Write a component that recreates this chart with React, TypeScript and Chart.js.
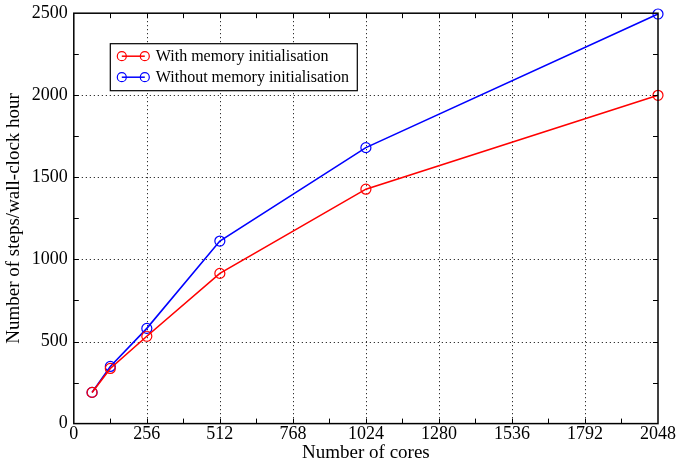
import React, { useEffect, useRef } from "react";
import { Chart, registerables } from "chart.js";
Chart.register(...registerables);

const cores = [64, 128, 256, 512, 1024, 2048];
const withInit = [190, 336, 532, 915, 1428, 2000];
const withoutInit = [190, 348, 580, 1112, 1681, 2495];
const seriesLabels = ["With memory initialisation", "Without memory initialisation"];
const seriesColors = ["#ff0000", "#0000ff"];
const xTitle = "Number of cores";
const yTitle = "Number of steps/wall-clock hour";

const FONT = "'Liberation Serif', 'DejaVu Serif', serif";

const framePlugin = {
  id: "frame",
  beforeDatasetsDraw(chart: any) {
    const { ctx, chartArea: a, scales } = chart;
    const xs = scales.x, ys = scales.y;
    ctx.save();
    ctx.strokeStyle = "#000";
    ctx.lineWidth = 1;
    ctx.setLineDash([1, 3]);
    for (let v = 256; v < 2048; v += 256) {
      const px = Math.round(xs.getPixelForValue(v)) + 0.5;
      ctx.beginPath(); ctx.moveTo(px, a.top); ctx.lineTo(px, a.bottom); ctx.stroke();
    }
    for (let v = 500; v < 2500; v += 500) {
      const py = Math.round(ys.getPixelForValue(v)) + 0.5;
      ctx.beginPath(); ctx.moveTo(a.left, py); ctx.lineTo(a.right, py); ctx.stroke();
    }
    ctx.restore();
  },
  afterDatasetsDraw(chart: any) {
    const { ctx, chartArea: a, scales } = chart;
    const xs = scales.x, ys = scales.y;
    ctx.save();
    ctx.strokeStyle = "#000";
    ctx.lineWidth = 1.5;
    ctx.setLineDash([]);
    ctx.strokeRect(a.left, a.top, a.right - a.left, a.bottom - a.top);
    ctx.lineWidth = 1;
    const L = 5;
    for (let v = 128; v < 2048; v += 128) {
      const px = Math.round(xs.getPixelForValue(v)) + 0.5;
      ctx.beginPath();
      ctx.moveTo(px, a.bottom); ctx.lineTo(px, a.bottom - L);
      ctx.moveTo(px, a.top); ctx.lineTo(px, a.top + L);
      ctx.stroke();
    }
    for (let v = 250; v < 2500; v += 250) {
      const py = Math.round(ys.getPixelForValue(v)) + 0.5;
      ctx.beginPath();
      ctx.moveTo(a.left, py); ctx.lineTo(a.left + L, py);
      ctx.moveTo(a.right, py); ctx.lineTo(a.right - L, py);
      ctx.stroke();
    }
    // legend
    const lx = a.left + 36, ly = a.top + 30, lw = 247, lh = 47;
    ctx.fillStyle = "#fff";
    ctx.fillRect(lx, ly, lw, lh);
    ctx.strokeStyle = "#000";
    ctx.lineWidth = 1.2;
    ctx.strokeRect(lx + 0.5, ly + 0.5, lw, lh);
    ctx.font = `16px ${FONT}`;
    ctx.textBaseline = "middle";
    ctx.textAlign = "left";
    seriesLabels.forEach((lab, i) => {
      const y = ly + 13 + i * 21;
      ctx.strokeStyle = seriesColors[i];
      ctx.lineWidth = 1.5;
      ctx.beginPath(); ctx.moveTo(lx + 12, y); ctx.lineTo(lx + 35, y); ctx.stroke();
      ctx.lineWidth = 1.2;
      [lx + 12, lx + 35].forEach((cx) => {
        ctx.beginPath(); ctx.arc(cx, y, 4.5, 0, Math.PI * 2); ctx.stroke();
      });
      ctx.fillStyle = "#000";
      ctx.fillText(lab, lx + 46, y + 1);
    });
    ctx.restore();
  },
};

export default function App() {
  const ref = useRef<HTMLCanvasElement>(null);
  useEffect(() => {
    document.body.style.margin = "0";
    const mk = (data: number[], i: number) => ({
      label: seriesLabels[i],
      data: cores.map((c, k) => ({ x: c, y: data[k] })),
      borderColor: seriesColors[i],
      backgroundColor: "rgba(0,0,0,0)",
      borderWidth: 1.6,
      pointRadius: 5,
      pointBorderWidth: 1.2,
      pointBorderColor: seriesColors[i],
      pointBackgroundColor: "rgba(0,0,0,0)",
      clip: false as any,
    });
    const chart = new Chart(ref.current!, {
      type: "line",
      data: { datasets: [mk(withInit, 0), mk(withoutInit, 1)] },
      options: {
        animation: false,
        responsive: false,
        layout: { padding: { top: 0, right: 20, bottom: 0, left: 0 } },
        plugins: { legend: { display: false }, tooltip: { enabled: false } },
        scales: {
          x: {
            type: "linear",
            min: 0,
            max: 2048,
            ticks: { stepSize: 256, color: "#000", font: { family: FONT, size: 18 }, padding: 0, maxRotation: 0, autoSkip: false, callback: (v: any) => String(v) },
            grid: { display: false, drawTicks: false },
            border: { display: false },
            title: { display: true, text: xTitle, color: "#000", font: { family: FONT, size: 19 }, padding: { top: -4, bottom: 0 } },
          },
          y: {
            type: "linear",
            min: 0,
            max: 2500,
            ticks: { stepSize: 500, color: "#000", font: { family: FONT, size: 18, lineHeight: 0.8 }, padding: 6, callback: (v: any) => String(v) },
            grid: { display: false, drawTicks: false },
            border: { display: false },
            title: { display: true, text: yTitle, color: "#000", font: { family: FONT, size: 19 }, padding: { top: 3, bottom: 0 } },
          },
        },
      },
      plugins: [framePlugin],
    });
    return () => chart.destroy();
  }, []);
  return (
    <div style={{ position: "fixed", left: 0, top: 0, width: 678, height: 464 }}>
      <canvas ref={ref} width={678} height={464} />
    </div>
  );
}
